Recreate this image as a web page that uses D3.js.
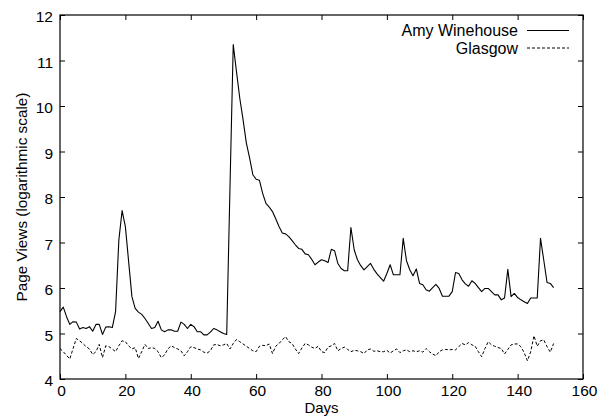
<!DOCTYPE html>
<html>
<head>
<meta charset="utf-8">
<script src="https://cdn.jsdelivr.net/npm/d3@7"></script>
<style>
  html, body { margin: 0; padding: 0; background: #fff; }
  svg { display: block; font-family: "Liberation Sans", Arial, Helvetica, sans-serif; }
</style>
</head>
<body>
<div id="chart"></div>
<script>
// Page views per day (log scale)
const seriesNames = ["Amy Winehouse", "Glasgow"];

const amyViews = [
  5.48, 5.58, 5.37, 5.20, 5.26, 5.25, 5.10, 5.13, 5.11, 5.15,
  5.05, 5.20, 5.20, 4.98, 5.14, 5.15, 5.13, 5.48, 7.05, 7.70,
  7.35, 6.58, 5.81, 5.55, 5.47, 5.42, 5.33, 5.22, 5.11, 5.13,
  5.27, 5.08, 5.04, 5.08, 5.08, 5.05, 5.05, 5.25, 5.20, 5.11,
  5.20, 5.15, 5.04, 5.04, 4.97, 4.97, 5.03, 5.11, 5.08, 5.04,
  5.00, 4.98, 8.20, 11.35, 10.75, 10.17, 9.70, 9.19, 8.86, 8.49,
  8.39, 8.37, 8.08, 7.86, 7.78, 7.68, 7.52, 7.35, 7.21, 7.19,
  7.13, 7.04, 6.95, 6.87, 6.85, 6.75, 6.73, 6.63, 6.51, 6.57,
  6.62, 6.60, 6.56, 6.85, 6.82, 6.54, 6.43, 6.38, 6.38, 7.33,
  6.84, 6.62, 6.49, 6.40, 6.47, 6.54, 6.41, 6.31, 6.23, 6.15,
  6.32, 6.51, 6.29, 6.29, 6.29, 7.09, 6.60, 6.40, 6.27, 6.42,
  6.10, 6.07, 5.96, 5.93, 6.01, 6.08, 5.99, 5.82, 5.82, 5.82,
  5.92, 6.34, 6.32, 6.18, 6.09, 6.04, 6.16, 6.10, 6.01, 5.92,
  5.99, 5.99, 5.92, 5.85, 5.85, 5.74, 5.78, 6.41, 5.81, 5.88,
  5.79, 5.74, 5.70, 5.66, 5.78, 5.78, 5.78, 7.09, 6.61, 6.12,
  6.10, 6.01
];

const glasgowViews = [
  4.67, 4.60, 4.52, 4.44, 4.67, 4.89, 4.84, 4.78, 4.71, 4.66,
  4.54, 4.60, 4.76, 4.47, 4.73, 4.71, 4.66, 4.60, 4.73, 4.84,
  4.82, 4.73, 4.66, 4.69, 4.45, 4.60, 4.76, 4.67, 4.69, 4.67,
  4.60, 4.47, 4.53, 4.66, 4.73, 4.69, 4.66, 4.62, 4.51, 4.60,
  4.71, 4.69, 4.66, 4.64, 4.59, 4.57, 4.62, 4.75, 4.76, 4.73,
  4.75, 4.78, 4.66, 4.78, 4.87, 4.82, 4.77, 4.72, 4.67, 4.62,
  4.60, 4.72, 4.74, 4.73, 4.77, 4.56, 4.72, 4.78, 4.86, 4.93,
  4.82, 4.78, 4.66, 4.56, 4.68, 4.78, 4.75, 4.70, 4.67, 4.72,
  4.60, 4.58, 4.70, 4.73, 4.78, 4.62, 4.67, 4.70, 4.65, 4.60,
  4.63, 4.62, 4.60, 4.56, 4.64, 4.66, 4.61, 4.62, 4.60, 4.60,
  4.63, 4.57, 4.62, 4.66, 4.58, 4.62, 4.64, 4.60, 4.62, 4.60,
  4.62, 4.59, 4.67, 4.60, 4.55, 4.51, 4.60, 4.64, 4.65, 4.64,
  4.65, 4.64, 4.71, 4.78, 4.75, 4.80, 4.75, 4.72, 4.60, 4.49,
  4.67, 4.82, 4.75, 4.72, 4.69, 4.67, 4.55, 4.65, 4.75, 4.77,
  4.77, 4.71, 4.58, 4.40, 4.60, 4.95, 4.72, 4.84, 4.86, 4.71,
  4.59, 4.78
];

const xTicks = [0, 20, 40, 60, 80, 100, 120, 140, 160];
const yTicks = [4, 5, 6, 7, 8, 9, 10, 11, 12];

const width = 607, height = 418;
const margin = { top: 15, right: 24, bottom: 39, left: 60 };

const svg = d3.select("#chart").append("svg")
    .attr("width", width)
    .attr("height", height)
    .attr("viewBox", [0, 0, width, height]);

const x = d3.scaleLinear()
    .domain([0, 160])
    .range([margin.left, width - margin.right]);

const y = d3.scaleLinear()
    .domain([4, 12])
    .range([height - margin.bottom, margin.top]);

const tickLen = 5;

// inward ticks on all four sides, gnuplot style
svg.append("g")
    .attr("class", "labelled")
    .attr("transform", `translate(0,${y(4)})`)
    .call(d3.axisBottom(x).tickValues(xTicks).tickSizeInner(-tickLen).tickSizeOuter(0).tickPadding(6))
    .call(g => g.select(".domain").remove())
    .call(g => g.selectAll("text").attr("dx", 1).attr("dy", "0.7em"));

svg.append("g")
    .attr("transform", `translate(0,${y(12)})`)
    .call(d3.axisTop(x).tickValues(xTicks).tickSizeInner(-tickLen).tickSizeOuter(0).tickFormat(""))
    .call(g => g.select(".domain").remove());

svg.append("g")
    .attr("class", "labelled")
    .attr("transform", `translate(${x(0)},0)`)
    .call(d3.axisLeft(y).tickValues(yTicks).tickSizeInner(-tickLen).tickSizeOuter(0).tickPadding(7))
    .call(g => g.select(".domain").remove())
    .call(g => g.selectAll("text").attr("dy", "0.42em"));

svg.append("g")
    .attr("transform", `translate(${x(160)},0)`)
    .call(d3.axisRight(y).tickValues(yTicks).tickSizeInner(-tickLen).tickSizeOuter(0).tickFormat(""))
    .call(g => g.select(".domain").remove());

svg.selectAll(".tick line").attr("stroke", "#000").attr("stroke-width", 1);
svg.selectAll(".labelled .tick text")
    .attr("fill", "#000")
    .style("font-size", "15.5px")
    .style("font-family", "'Liberation Sans', Arial, sans-serif");

// plot border
svg.append("rect")
    .attr("x", x(0))
    .attr("y", y(12))
    .attr("width", x(160) - x(0))
    .attr("height", y(4) - y(12))
    .attr("fill", "none")
    .attr("stroke", "#000")
    .attr("stroke-width", 1.2);

const line = d3.line()
    .x((d, i) => x(i))
    .y(d => y(d));

svg.append("path")
    .datum(amyViews)
    .attr("fill", "none")
    .attr("stroke", "#000")
    .attr("stroke-width", 1.1)
    .attr("stroke-linejoin", "round")
    .attr("d", line);

svg.append("path")
    .datum(glasgowViews)
    .attr("fill", "none")
    .attr("stroke", "#000")
    .attr("stroke-width", 1)
    .attr("stroke-dasharray", "3,2")
    .attr("d", line);

// axis titles
svg.append("text")
    .attr("x", (x(0) + x(160)) / 2)
    .attr("y", 413)
    .attr("text-anchor", "middle")
    .style("font-size", "15px")
    .text("Days");

svg.append("text")
    .attr("transform", `translate(27,${(y(4) + y(12)) / 2}) rotate(-90)`)
    .attr("text-anchor", "middle")
    .style("font-size", "15.3px")
    .text("Page Views (logarithmic scale)");

// legend
const legendRows = [
    { name: seriesNames[0], dash: null, cy: 30.5 },
    { name: seriesNames[1], dash: "3,2", cy: 48 }
];

const legend = svg.append("g");
legend.selectAll("text")
    .data(legendRows)
    .join("text")
    .attr("x", 518)
    .attr("y", d => d.cy + 5.5)
    .attr("text-anchor", "end")
    .style("font-size", "16px")
    .text(d => d.name);

legend.selectAll("line")
    .data(legendRows)
    .join("line")
    .attr("x1", 527)
    .attr("x2", 569)
    .attr("y1", d => d.cy)
    .attr("y2", d => d.cy)
    .attr("stroke", "#000")
    .attr("stroke-width", 1)
    .attr("stroke-dasharray", d => d.dash);
</script>
</body>
</html>
